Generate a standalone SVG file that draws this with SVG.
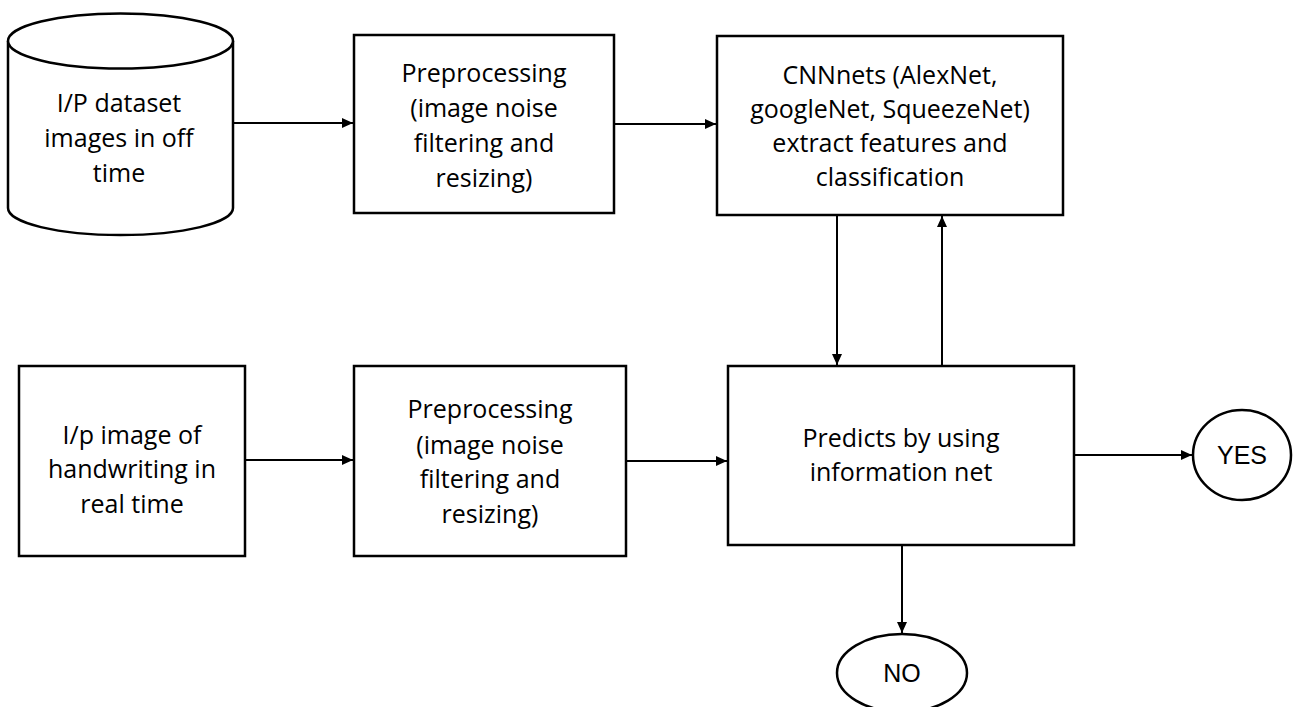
<svg xmlns="http://www.w3.org/2000/svg" width="1294" height="707" viewBox="0 0 1294 707">
  <style>
    .shape { fill: #ffffff; stroke: #000000; stroke-width: 2.5; }
    .label { font-family: "Open Sans", "Liberation Sans", sans-serif; font-size: 25px; fill: #000000; text-anchor: middle; }
    .term { font-family: "Liberation Sans", Arial, sans-serif; font-size: 25px; fill: #000000; text-anchor: middle; }
    .wire { fill: none; stroke: #000000; stroke-width: 2; marker-end: url(#arrow); }
  </style>
  <defs>
    <marker id="arrow" markerUnits="userSpaceOnUse" markerWidth="12" markerHeight="10" refX="11" refY="5" orient="auto">
      <path d="M0,0 L11,5 L0,10 Z" fill="#000000"/>
    </marker>
  </defs>

  <rect width="1294" height="707" fill="#ffffff"/>

  <!-- offline dataset store -->
  <g id="dataset">
    <path class="shape" d="M8,41 L8,208 A112.5,27 0 0 0 233,208 L233,41 A112.5,27.5 0 0 0 8,41 Z"/>
    <path class="shape" d="M8,41 A112.5,27.5 0 0 0 233,41" fill="none"/>
    <text class="label" x="119" y="112">I/P dataset</text>
    <text class="label" x="119" y="147">images in off</text>
    <text class="label" x="119" y="182">time</text>
  </g>

  <g id="preprocess-offline">
    <rect class="shape" x="354" y="35" width="260" height="178"/>
    <text class="label" x="484" y="82">Preprocessing</text>
    <text class="label" x="484" y="117">(image noise</text>
    <text class="label" x="484" y="152">filtering and</text>
    <text class="label" x="484" y="187">resizing)</text>
  </g>

  <g id="cnn">
    <rect class="shape" x="717" y="36" width="346" height="179"/>
    <text class="label" x="890" y="84">CNNnets (AlexNet,</text>
    <text class="label" x="890" y="118">googleNet, SqueezeNet)</text>
    <text class="label" x="890" y="152">extract features and</text>
    <text class="label" x="890" y="186">classification</text>
  </g>

  <g id="realtime-input">
    <rect class="shape" x="19" y="366" width="226" height="190"/>
    <text class="label" x="132" y="444">I/p image of</text>
    <text class="label" x="132" y="478">handwriting in</text>
    <text class="label" x="132" y="513">real time</text>
  </g>

  <g id="preprocess-realtime">
    <rect class="shape" x="354" y="366" width="272" height="190"/>
    <text class="label" x="490" y="418">Preprocessing</text>
    <text class="label" x="490" y="454">(image noise</text>
    <text class="label" x="490" y="488">filtering and</text>
    <text class="label" x="490" y="523">resizing)</text>
  </g>

  <g id="predict">
    <rect class="shape" x="728" y="366" width="346" height="179"/>
    <text class="label" x="901" y="447">Predicts by using</text>
    <text class="label" x="901" y="481">information net</text>
  </g>

  <g id="yes">
    <ellipse class="shape" cx="1242" cy="455" rx="49" ry="45"/>
    <text class="term" x="1242" y="464">YES</text>
  </g>

  <g id="no">
    <ellipse class="shape" cx="902" cy="673" rx="65" ry="39"/>
    <text class="term" x="902" y="682">NO</text>
  </g>

  <g id="connectors">
    <line class="wire" x1="233" y1="123" x2="353" y2="123"/>
    <line class="wire" x1="614" y1="124" x2="716" y2="124"/>
    <line class="wire" x1="837" y1="215" x2="837" y2="365"/>
    <line class="wire" x1="942" y1="366" x2="942" y2="216"/>
    <line class="wire" x1="245" y1="460" x2="353" y2="460"/>
    <line class="wire" x1="626" y1="461" x2="727" y2="461"/>
    <line class="wire" x1="1074" y1="455" x2="1192" y2="455"/>
    <line class="wire" x1="902" y1="545" x2="902" y2="633"/>
  </g>
</svg>
